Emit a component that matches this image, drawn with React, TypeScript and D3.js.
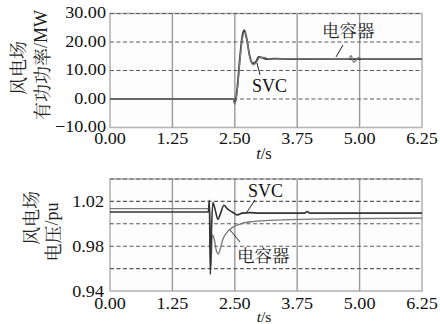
import React from "react";
import * as d3 from "d3";

// time axis ticks shared by both panels
const timeTicks = [0, 1.25, 2.5, 3.75, 5, 6.25];

// upper panel: wind farm active power (MW)
const powerTicks = [-10, 0, 10, 20, 30];
const powerSvcT = [0, 2.47, 2.5, 2.55, 2.6, 2.65, 2.69, 2.74, 2.8, 2.86, 2.92, 2.98, 3.05, 3.15, 3.3, 3.6, 4.5, 6.25];
const powerSvcV = [0, 0, -1.5, 4, 14, 22, 24.2, 21, 15, 12.5, 13, 14.8, 14.5, 14, 14.2, 14, 14, 14];
const powerCapT = [0, 2.47, 2.5, 2.55, 2.6, 2.65, 2.7, 2.75, 2.81, 2.87, 2.93, 3.0, 3.08, 3.2, 3.5, 4.78, 4.83, 4.88, 4.93, 4.98, 5.05, 5.2, 6.25];
const powerCapV = [0, 0, -2, 3, 13, 21, 23.5, 20, 14, 12, 12.8, 14.5, 14.6, 14, 14.1, 14, 15.2, 12.9, 13.6, 14.6, 14, 14, 14];

// lower panel: wind farm voltage (pu)
const voltTicks = [0.94, 0.98, 1.02];
const voltGrid = [0.94, 0.96, 0.98, 1.0, 1.02, 1.04];
const voltSvcT = [0, 1.97, 1.99, 2.01, 2.03, 2.06, 2.11, 2.16, 2.22, 2.28, 2.36, 2.45, 2.55, 2.65, 2.8, 3.0, 3.9, 3.95, 4.0, 6.25];
const voltSvcV = [1.0105, 1.0105, 1.021, 0.955, 0.99, 1.019, 1.012, 1.004, 1.01, 1.0165, 1.013, 1.0105, 1.008, 1.0095, 1.01, 1.0095, 1.0095, 1.011, 1.0095, 1.0095];
const voltCapT = [0, 1.97, 1.995, 2.02, 2.05, 2.09, 2.13, 2.17, 2.21, 2.26, 2.32, 2.4, 2.5, 2.65, 2.85, 3.2, 3.8, 4.5, 6.25];
const voltCapV = [1.0135, 1.0135, 1.019, 0.962, 0.99, 0.986, 0.976, 0.973, 0.978, 0.986, 0.991, 0.995, 0.998, 1.0005, 1.002, 1.003, 1.004, 1.0045, 1.005];

const LATIN = `"Liberation Serif"`;
const HAN = `"Noto Serif CJK SC"`;
const SVC_COLOR = "#333";
const CAP_COLOR = "#7a7a7a";

const x = d3.scaleLinear().domain([0, 6.25]).range([110, 422]);
const yP = d3.scaleLinear().domain([-10, 30]).range([127.5, 13.5]);
const yV = d3.scaleLinear().domain([0.94, 1.04]).range([291, 179]);

const Label = ({ x, y, anchor = "middle", children, size = 16.5 }: any) => (
  <text
    transform={`translate(${x},${y}) scale(1.1,1)`}
    textAnchor={anchor}
    style={{ fontFamily: LATIN, fontSize: size }}
    fill="#111"
  >
    {children}
  </text>
);

// rotated axis title: chinese part + optional latin unit
const YTitle = ({ cx, cy, han, unit }: any) => (
  <text transform={`translate(${cx},${cy}) rotate(-90)`} textAnchor="middle" dominantBaseline="central" fill="#222" style={{ fontSize: 18 }}>
    <tspan style={{ fontFamily: HAN }}>{han}</tspan>
    {unit && <tspan style={{ fontFamily: LATIN }}>{unit}</tspan>}
  </text>
);

const TimeTitle = ({ y, size }: any) => (
  <text x={264} y={y} textAnchor="middle" style={{ fontFamily: LATIN, fontSize: size }} fill="#111">
    <tspan fontStyle="italic">t</tspan>/s
  </text>
);

const Panel = ({ y, hGrid, series }: any) => {
  const [x0, x1] = x.range();
  const [yb, yt] = y.range();
  const line = (ts: number[], vs: number[]) =>
    d3.line<number>().x((_, i) => x(ts[i])).y((v) => y(v)).curve(d3.curveMonotoneX)(vs) || "";
  return (
    <g>
      <rect x={x0} y={yt} width={x1 - x0} height={yb - yt} fill="#fdfdfd" stroke="#b5b5b5" strokeWidth={1.6} />
      {timeTicks.slice(1, -1).map((t) => (
        <line key={t} x1={x(t)} x2={x(t)} y1={yt} y2={yb} stroke="#9a9a9a" strokeWidth={1.4} />
      ))}
      {hGrid.slice(1).map((v: number) => (
        <line key={v} x1={x0} x2={x1} y1={y(v)} y2={y(v)} stroke="#5a5a5a" strokeWidth={1.1} strokeDasharray="4,2.5" />
      ))}
      {series.map((s: any, i: number) => (
        <path key={i} d={line(s.t, s.v)} fill="none" stroke={s.color} strokeWidth={s.w} />
      ))}
    </g>
  );
};

const svcStyle = { fontFamily: LATIN, fontSize: 18 };
const capStyle = { fontFamily: HAN, fontSize: 17.5 };

export default function App() {
  return (
    <svg width={440} height={324} style={{ position: "absolute", left: 0, top: 0, background: "#fff" }}>
      {/* upper panel */}
      <Panel
        y={yP}
        hGrid={powerTicks}
        series={[
          { t: powerSvcT, v: powerSvcV, color: SVC_COLOR, w: 1.8 },
          { t: powerCapT, v: powerCapV, color: CAP_COLOR, w: 1.3 },
        ]}
      />
      {powerTicks.map((v) => (
        <Label key={v} x={106} y={yP(v) + 4.5} anchor="end">
          {v < 0 ? `\u2212${Math.abs(v).toFixed(2)}` : v.toFixed(2)}
        </Label>
      ))}
      {timeTicks.map((t) => (
        <Label key={t} x={x(t)} y={144}>{t.toFixed(2)}</Label>
      ))}
      <TimeTitle y={159} size={16.5} />
      <YTitle cx={17} cy={68} han="风电场" />
      <YTitle cx={41} cy={65} han="有功功率" unit="/MW" />
      <text x={x(2.845)} y={yP(2.46)} style={svcStyle} fill="#111">SVC</text>
      <line x1={x(2.945)} y1={yP(12.63)} x2={x(3.005)} y2={yP(8.42)} stroke="#222" strokeWidth={1} />
      <text x={x(4.247)} y={yP(21.75)} style={capStyle} fill="#222">电容器</text>
      <line x1={x(4.667)} y1={yP(18.95)} x2={x(4.527)} y2={yP(14.74)} stroke="#222" strokeWidth={1} />

      {/* lower panel */}
      <Panel
        y={yV}
        hGrid={voltGrid}
        series={[
          { t: voltCapT, v: voltCapV, color: CAP_COLOR, w: 1.3 },
          { t: voltSvcT, v: voltSvcV, color: SVC_COLOR, w: 1.6 },
        ]}
      />
      {voltTicks.map((v) => (
        <Label key={v} x={104} y={yV(v) + 5.5} anchor="end">{v.toFixed(2)}</Label>
      ))}
      {timeTicks.map((t) => (
        <Label key={t} x={x(t)} y={309}>{t.toFixed(2)}</Label>
      ))}
      <TimeTitle y={322} size={15.5} />
      <YTitle cx={29.5} cy={218} han="风电场" />
      <YTitle cx={51.5} cy={232} han="电压" unit="/pu" />
      <text x={x(2.764)} y={yV(1.0239)} style={svcStyle} fill="#111">SVC</text>
      <line x1={x(2.905)} y1={yV(1.0213)} x2={x(2.744)} y2={yV(1.0105)} stroke="#222" strokeWidth={1} />
      <text x={x(2.544)} y={yV(0.9659)} style={capStyle} fill="#222">电容器</text>
      <line x1={x(2.604)} y1={yV(0.9838)} x2={x(2.404)} y2={yV(0.9945)} stroke="#222" strokeWidth={1} />
    </svg>
  );
}
